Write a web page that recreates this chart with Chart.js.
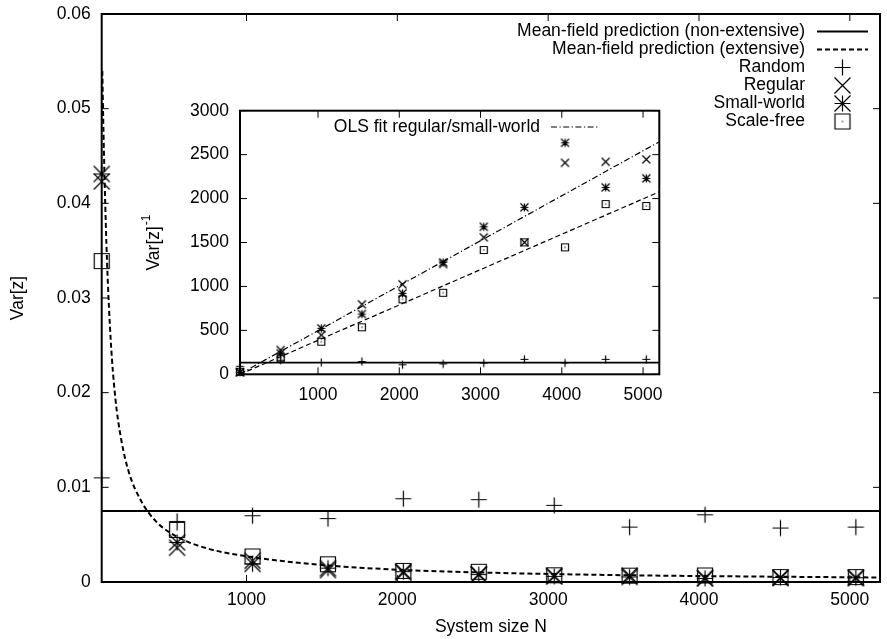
<!DOCTYPE html>
<html>
<head>
<meta charset="utf-8">
<script src="https://cdn.jsdelivr.net/npm/chart.js@4.4.1/dist/chart.umd.min.js"></script>
<style>
  html, body { margin: 0; padding: 0; background: #fff; overflow: hidden; }
  #wrap { position: relative; width: 887px; height: 639px; overflow: hidden; }
  #mainChart { position: absolute; left: 0; top: 0; }
  #insetChart { position: absolute; left: 130px; top: 95px; }
</style>
</head>
<body>
<div id="wrap">
  <canvas id="mainChart" width="889" height="639"></canvas>
  <canvas id="insetChart" width="550" height="315"></canvas>
</div>
<script>
// System sizes used in the simulations
const sizes = [40, 540, 1040, 1540, 2040, 2540, 3040, 3540, 4040, 4540, 5040];

// Var[z] (main plot)
const randomVar = [0.0110, 0.0064, 0.0070, 0.0067, 0.0088, 0.0087, 0.0081, 0.0058, 0.0071, 0.0057, 0.0058];
const regularVar = [0.0423, 0.00362, 0.00224, 0.00126, 0.00098, 0.0008, 0.00064, 0.00067, 0.00042, 0.00041, 0.00041];
const smallWorldVar = [0.0431, 0.00418, 0.00191, 0.00146, 0.00109, 0.00078, 0.0006, 0.00053, 0.00038, 0.00047, 0.00045];
const scaleFreeVar = [0.0339, 0.0055, 0.0027, 0.00187, 0.00117, 0.00108, 0.00071, 0.00067, 0.00069, 0.00052, 0.00052];

// Var[z]^-1 (inset)
const randomInv = [91, 160, 135, 145, 108, 118, 128, 170, 130, 170, 170];
const regularInv = [24, 276, 447, 796, 1024, 1255, 1559, 1502, 2407, 2419, 2446];
const smallWorldInv = [23, 239, 523, 686, 921, 1274, 1679, 1900, 2635, 2127, 2230];
const scaleFreeInv = [29, 182, 371, 535, 853, 928, 1414, 1502, 1445, 1937, 1915];

// Mean-field predictions
const nonExtVar = 0.0075;
const nonExtInv = 133;
const extCurveN = [44, 50, 60, 75, 100, 130, 170, 220, 300, 400, 550, 750, 1050, 1500, 2000, 2500, 3000, 3500, 4000, 4500, 5000, 5200];
const extCurveVar = [0.054, 0.049, 0.042, 0.034, 0.0255, 0.0195, 0.015, 0.0116, 0.0086, 0.0064, 0.0047, 0.0035, 0.0026, 0.0018, 0.0013, 0.00103, 0.00085, 0.00072, 0.00063, 0.00056, 0.0005, 0.00048];
const extLineN = [40, 5200];
const extLineInv = [0, 2077];

// OLS fit regular/small-world (inset)
const olsFitN = [40, 5200];
const olsFitInv = [5, 2646];

// Axis ticks
const mainXTicks = [1000, 2000, 3000, 4000, 5000];
const mainYTicks = [0, 0.01, 0.02, 0.03, 0.04, 0.05, 0.06];
const insetXTicks = [1000, 2000, 3000, 4000, 5000];
const insetYTicks = [0, 500, 1000, 1500, 2000, 2500, 3000];

Chart.defaults.font.family = '"Liberation Sans", Arial, sans-serif';
Chart.defaults.font.size = 17.5;
Chart.defaults.color = '#000';

function pts (xs, ys) {
  return xs.map((x, i) => ({ x: x, y: ys[i] }));
}

// gnuplot-like point symbols drawn on small canvases
function makeMarker (type, half) {
  const size = Math.ceil(half * 2) + 5;
  const c = document.createElement('canvas');
  c.width = size;
  c.height = size;
  const g = c.getContext('2d');
  const m = size / 2;
  g.strokeStyle = '#000';
  g.lineWidth = 1.2;
  g.beginPath();
  if (type === 'plus' || type === 'star') {
    g.moveTo(m - half, m); g.lineTo(m + half, m);
    g.moveTo(m, m - half); g.lineTo(m, m + half);
  }
  if (type === 'cross' || type === 'star') {
    g.moveTo(m - half, m - half); g.lineTo(m + half, m + half);
    g.moveTo(m - half, m + half); g.lineTo(m + half, m - half);
  }
  if (type === 'box') {
    g.rect(m - half, m - half, half * 2, half * 2);
  }
  g.stroke();
  if (type === 'box') {
    g.fillStyle = '#000';
    g.fillRect(m - 0.6, m - 0.6, 1.2, 1.2);
  }
  return c;
}

const bigMarkers = {
  plus: makeMarker('plus', 8),
  cross: makeMarker('cross', 8),
  star: makeMarker('star', 8),
  box: makeMarker('box', 7.5)
};
const smallMarkers = {
  plus: makeMarker('plus', 4),
  cross: makeMarker('cross', 4),
  star: makeMarker('star', 4),
  box: makeMarker('box', 3.5)
};

// keep the plot box where the layout padding puts it
function fixWidth (w) {
  return scale => {
    scale.width = w;
    scale.paddingTop = 0;
    scale.paddingBottom = 0;
  };
}
function fixHeight (h) {
  return scale => {
    scale.height = h;
    scale.paddingLeft = 0;
    scale.paddingRight = 0;
  };
}

// inward ticks on all four sides plus the frame
const gnuplotFrame = {
  id: 'gnuplotFrame',
  afterDatasetsDraw (chart, args, opts) {
    const { ctx, chartArea: a, scales: { x, y } } = chart;
    const len = opts.tickLength;
    ctx.save();
    ctx.strokeStyle = '#000';
    ctx.lineWidth = 1;
    ctx.beginPath();
    x.ticks.forEach(t => {
      const px = x.getPixelForValue(t.value);
      ctx.moveTo(px, a.bottom); ctx.lineTo(px, a.bottom - len);
      ctx.moveTo(px, a.top); ctx.lineTo(px, a.top + len);
    });
    y.ticks.forEach(t => {
      const py = y.getPixelForValue(t.value);
      ctx.moveTo(a.left, py); ctx.lineTo(a.left + len, py);
      ctx.moveTo(a.right, py); ctx.lineTo(a.right - len, py);
    });
    ctx.stroke();
    ctx.lineWidth = opts.borderWidth;
    ctx.strokeRect(a.left, a.top, a.right - a.left, a.bottom - a.top);
    ctx.restore();
  }
};

// gnuplot style key: right-aligned text, sample on the right
const gnuplotKey = {
  id: 'gnuplotKey',
  afterDraw (chart, args, opts) {
    const ctx = chart.ctx;
    ctx.save();
    ctx.font = '17.5px "Liberation Sans", Arial, sans-serif';
    ctx.fillStyle = '#000';
    ctx.textAlign = 'right';
    ctx.textBaseline = 'middle';
    opts.entries.forEach((e, i) => {
      const ds = chart.data.datasets[e.dataset];
      const y = opts.top + i * opts.step;
      ctx.fillText(ds.label, opts.textRight, y);
      if (ds.showLine) {
        ctx.save();
        ctx.strokeStyle = '#000';
        ctx.lineWidth = ds.borderWidth;
        ctx.setLineDash(ds.borderDash || []);
        ctx.beginPath();
        ctx.moveTo(opts.sampleLeft, y);
        ctx.lineTo(opts.sampleRight, y);
        ctx.stroke();
        ctx.restore();
      } else {
        const img = ds.pointStyle;
        ctx.drawImage(img, (opts.sampleLeft + opts.sampleRight) / 2 - img.width / 2, y - img.height / 2);
      }
    });
    ctx.restore();
  }
};

// Var[z]^-1 title with a raised exponent
const insetTitle = {
  id: 'insetTitle',
  afterDraw (chart, args, opts) {
    const ctx = chart.ctx;
    ctx.save();
    ctx.translate(opts.x, opts.y);
    ctx.rotate(-Math.PI / 2);
    ctx.fillStyle = '#000';
    ctx.textBaseline = 'middle';
    ctx.textAlign = 'left';
    ctx.font = '17.5px "Liberation Sans", Arial, sans-serif';
    const w1 = ctx.measureText('Var[z]').width;
    ctx.font = '12px "Liberation Sans", Arial, sans-serif';
    const w2 = ctx.measureText('-1').width;
    const start = -(w1 + w2) / 2;
    ctx.font = '17.5px "Liberation Sans", Arial, sans-serif';
    ctx.fillText('Var[z]', start, 0);
    ctx.font = '12px "Liberation Sans", Arial, sans-serif';
    ctx.fillText('-1', start + w1 + 1, -7);
    ctx.restore();
  }
};

// Main chart
new Chart(document.getElementById('mainChart'), {
  type: 'scatter',
  data: {
    datasets: [{
      label: 'Mean-field prediction (non-extensive)',
      data: [{ x: 40, y: nonExtVar }, { x: 5200, y: nonExtVar }],
      showLine: true,
      borderColor: '#000',
      borderWidth: 2,
      pointRadius: 0
    }, {
      label: 'Mean-field prediction (extensive)',
      data: pts(extCurveN, extCurveVar),
      showLine: true,
      borderColor: '#000',
      borderWidth: 2,
      borderDash: [5, 3],
      pointRadius: 0,
      cubicInterpolationMode: 'monotone'
    }, {
      label: 'Random',
      data: pts(sizes, randomVar),
      pointStyle: bigMarkers.plus,
      pointRadius: 8,
      clip: false
    }, {
      label: 'Regular',
      data: pts(sizes, regularVar),
      pointStyle: bigMarkers.cross,
      pointRadius: 8,
      clip: false
    }, {
      label: 'Small-world',
      data: pts(sizes, smallWorldVar),
      pointStyle: bigMarkers.star,
      pointRadius: 8,
      clip: false
    }, {
      label: 'Scale-free',
      data: pts(sizes, scaleFreeVar),
      pointStyle: bigMarkers.box,
      pointRadius: 8,
      clip: false
    }]
  },
  options: {
    responsive: false,
    animation: false,
    layout: { padding: { top: 14, right: 0, left: 0, bottom: 0 } },
    plugins: {
      legend: { display: false },
      tooltip: { enabled: false },
      gnuplotFrame: { tickLength: 7, borderWidth: 2 },
      gnuplotKey: {
        textRight: 805,
        sampleLeft: 817,
        sampleRight: 868,
        top: 31.5,
        step: 18,
        entries: [{ dataset: 0 }, { dataset: 1 }, { dataset: 2 }, { dataset: 3 }, { dataset: 4 }, { dataset: 5 }]
      }
    },
    scales: {
      x: {
        type: 'linear',
        min: 40,
        max: 5200,
        afterBuildTicks: scale => { scale.ticks = mainXTicks.map(v => ({ value: v })); },
        afterFit: fixHeight(57),
        grid: { display: false, drawTicks: false },
        border: { display: false },
        ticks: { padding: 8, maxRotation: 0, callback: v => String(v) },
        title: { display: true, text: 'System size N', padding: { top: 0, bottom: 1 } }
      },
      y: {
        min: 0,
        max: 0.06,
        afterBuildTicks: scale => { scale.ticks = mainYTicks.map(v => ({ value: v })); },
        afterFit: fixWidth(101.7),
        grid: { display: false, drawTicks: false },
        border: { display: false },
        ticks: { padding: 11, callback: v => (v === 0 ? '0' : v.toFixed(2)) },
        title: { display: true, text: 'Var[z]', padding: { top: 8, bottom: 0 } }
      }
    }
  },
  plugins: [gnuplotFrame, gnuplotKey]
});

// Inset chart
new Chart(document.getElementById('insetChart'), {
  type: 'scatter',
  data: {
    datasets: [{
      label: 'OLS fit regular/small-world',
      data: pts(olsFitN, olsFitInv),
      showLine: true,
      borderColor: '#000',
      borderWidth: 1.2,
      borderDash: [6, 2.5, 1.2, 2.5],
      pointRadius: 0
    }, {
      label: 'Mean-field prediction (extensive)',
      data: pts(extLineN, extLineInv),
      showLine: true,
      borderColor: '#000',
      borderWidth: 1.2,
      borderDash: [5, 3],
      pointRadius: 0
    }, {
      label: 'Mean-field prediction (non-extensive)',
      data: [{ x: 40, y: nonExtInv }, { x: 5200, y: nonExtInv }],
      showLine: true,
      borderColor: '#000',
      borderWidth: 1.6,
      pointRadius: 0
    }, {
      label: 'Random',
      data: pts(sizes, randomInv),
      pointStyle: smallMarkers.plus,
      pointRadius: 4,
      clip: false
    }, {
      label: 'Regular',
      data: pts(sizes, regularInv),
      pointStyle: smallMarkers.cross,
      pointRadius: 4,
      clip: false
    }, {
      label: 'Small-world',
      data: pts(sizes, smallWorldInv),
      pointStyle: smallMarkers.star,
      pointRadius: 4,
      clip: false
    }, {
      label: 'Scale-free',
      data: pts(sizes, scaleFreeInv),
      pointStyle: smallMarkers.box,
      pointRadius: 4,
      clip: false
    }]
  },
  options: {
    responsive: false,
    animation: false,
    layout: { padding: { top: 15.7, right: 20.7, left: 0, bottom: 0 } },
    plugins: {
      legend: { display: false },
      tooltip: { enabled: false },
      gnuplotFrame: { tickLength: 7, borderWidth: 2 },
      gnuplotKey: {
        textRight: 410,
        sampleLeft: 421,
        sampleRight: 469,
        top: 32,
        step: 18,
        entries: [{ dataset: 0 }]
      },
      insetTitle: { x: 24, y: 148 }
    },
    scales: {
      x: {
        type: 'linear',
        min: 40,
        max: 5200,
        afterBuildTicks: scale => { scale.ticks = insetXTicks.map(v => ({ value: v })); },
        afterFit: fixHeight(35.7),
        grid: { display: false, drawTicks: false },
        border: { display: false },
        ticks: { padding: 10, maxRotation: 0, callback: v => String(v) }
      },
      y: {
        min: 0,
        max: 3000,
        afterBuildTicks: scale => { scale.ticks = insetYTicks.map(v => ({ value: v })); },
        afterFit: fixWidth(110),
        grid: { display: false, drawTicks: false },
        border: { display: false },
        ticks: { padding: 11, callback: v => String(v) }
      }
    }
  },
  plugins: [gnuplotFrame, gnuplotKey, insetTitle]
});
</script>
</body>
</html>
